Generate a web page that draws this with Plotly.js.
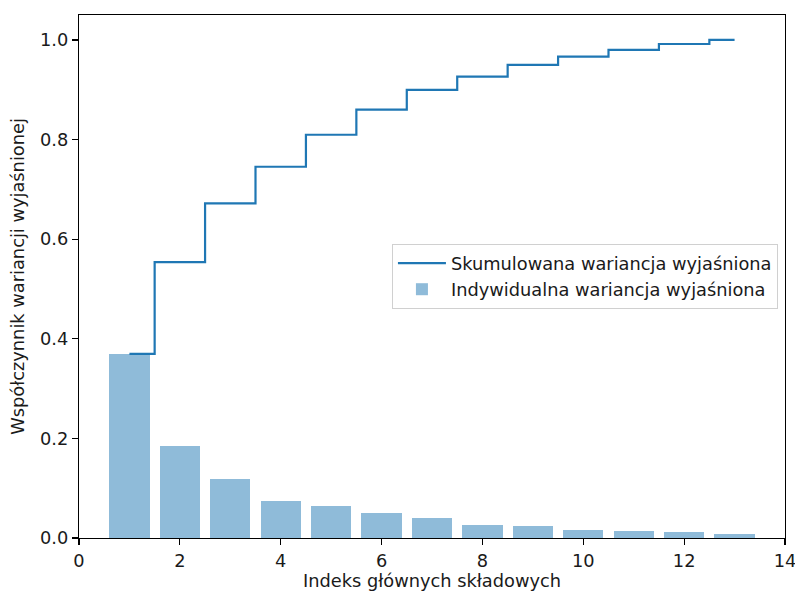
<!DOCTYPE html>
<html>
<head>
<meta charset="utf-8">
<script src="https://cdn.plot.ly/plotly-3.0.1.min.js"></script>
<style>html,body{margin:0;padding:0;background:#fff;}#chart{width:795px;height:591px;}</style>
</head>
<body>
<div id="chart"></div>
<script>
const components = [1,2,3,4,5,6,7,8,9,10,11,12,13];
const individualVariance = [0.3695, 0.1843, 0.1182, 0.0733, 0.0642, 0.0505, 0.0395, 0.0264, 0.0239, 0.0163, 0.0138, 0.0117, 0.0082];
const cumulativeVariance = [0.3695, 0.5539, 0.6720, 0.7453, 0.8096, 0.8601, 0.8996, 0.9261, 0.9500, 0.9663, 0.9801, 0.9918, 1.0000];
const xTicks = [0,2,4,6,8,10,12,14];
const yTicks = [0.0,0.2,0.4,0.6,0.8,1.0];

const font = {family: 'DejaVu Sans', size: 17.8, color: '#1a1a1a'};

const traces = [
  {
    type: 'scatter', mode: 'lines', x: components, y: cumulativeVariance,
    line: {shape: 'hvh', color: '#1f77b4', width: 2.2},
    name: 'Skumulowana wariancja wyjaśniona',
    legendgroup: 'a'
  },
  {
    type: 'bar', x: components, y: individualVariance, width: 0.8,
    marker: {color: 'rgba(31,119,180,0.5)', line: {width: 0}},
    name: 'Indywidualna wariancja wyjaśniona',
    legendgroup: 'b'
  }
];

const layout = {
  width: 795, height: 591,
  margin: {l: 79, r: 10, t: 15, b: 53},
  paper_bgcolor: '#fff', plot_bgcolor: '#fff',
  font: font,
  showlegend: true,
  legend: {
    x: 0.99, xanchor: 'right', y: 0.5, yanchor: 'middle',
    bordercolor: '#d0d0d0', borderwidth: 1, bgcolor: 'rgba(255,255,255,0.8)',
    font: font, traceorder: 'grouped', tracegroupgap: 0, itemwidth: 48
  },
  xaxis: {
    range: [0, 14], tickvals: xTicks, ticktext: xTicks.map(String),
    showgrid: false, zeroline: false,
    showline: true, linecolor: '#000', linewidth: 1.2, mirror: true,
    ticks: 'outside', ticklen: 6, tickwidth: 1.2, tickcolor: '#000',
    tickfont: font, ticklabeloverflow: 'allow',
    title: {text: 'Indeks głównych składowych', font: font, standoff: 10}
  },
  yaxis: {
    range: [0, 1.05], tickvals: yTicks, ticktext: yTicks.map(v => v.toFixed(1)),
    showgrid: false, zeroline: false,
    showline: true, linecolor: '#000', linewidth: 1.2, mirror: true,
    ticks: 'outside', ticklen: 6, tickwidth: 1.2, tickcolor: '#000',
    tickfont: font,
    title: {text: 'Współczynnik wariancji wyjaśnionej', font: font, standoff: 10}
  },
  bargap: 0
};

Plotly.newPlot('chart', traces, layout, {displayModeBar: false, staticPlot: true});
</script>
</body>
</html>
